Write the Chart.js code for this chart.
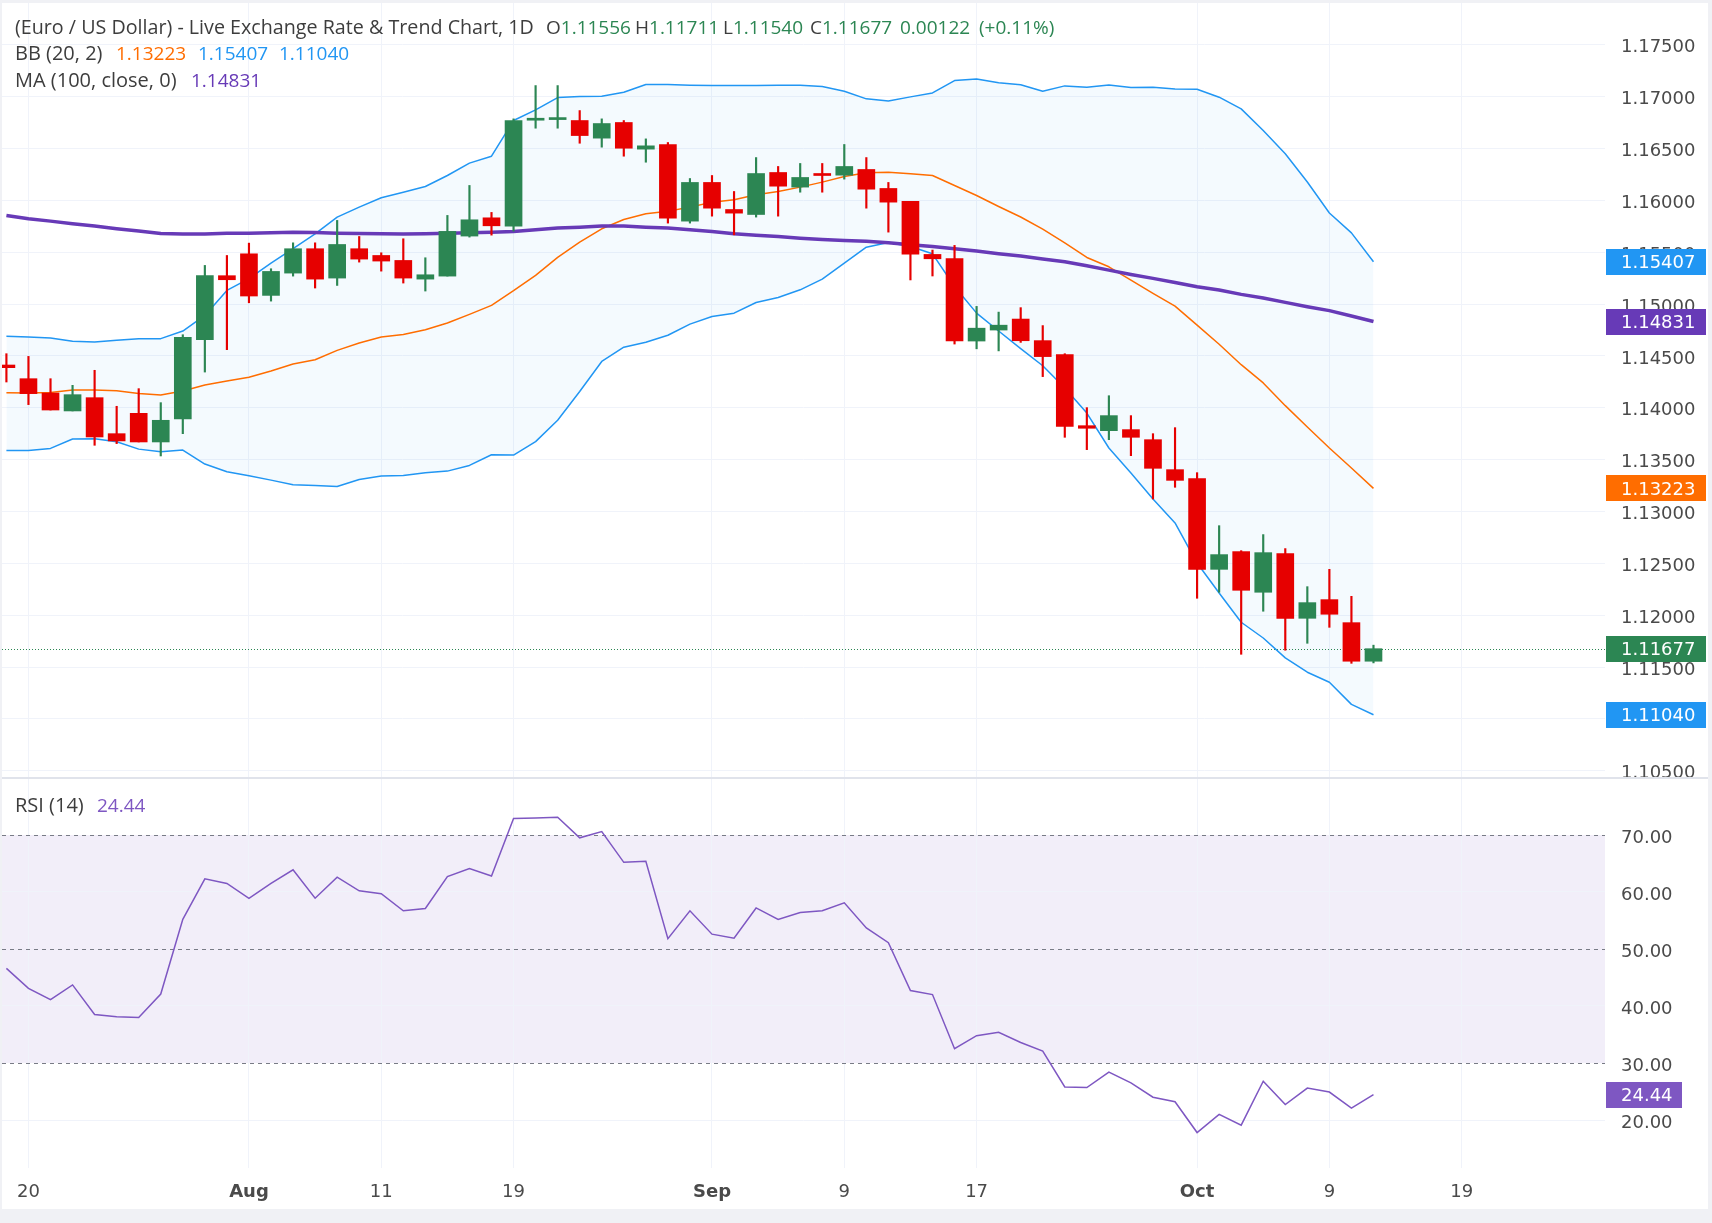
<!DOCTYPE html>
<html>
<head>
<meta charset="utf-8">
<script src="https://cdn.jsdelivr.net/npm/chart.js@4.4.1/dist/chart.umd.min.js"></script>
<style>
  body { margin: 0; width: 1712px; height: 1223px; overflow: hidden; background: #f0f1f5; font-family: "Open Sans", sans-serif; }
  #frame { position: absolute; left: 2px; top: 3px; width: 1706px; height: 1206px; background: #fff; }
  #priceBox { position: absolute; left: 0; top: 0; width: 1706px; height: 774px; }
  #sep { position: absolute; left: 0; top: 774px; width: 1706px; height: 2px; background: #e0e3eb; }
  #rsiBox { position: absolute; left: 0; top: 776px; width: 1706px; height: 430px; }
  .t { position: absolute; font-size: 19px; line-height: 24px; color: #3d3d3d; white-space: nowrap; z-index: 5; }
  .w { font-size: 20px; }
  .g { color: #2c8653; }
</style>
</head>
<body>
<div id="frame">
  <div id="priceBox"><canvas id="priceChart" width="1706" height="774"></canvas></div>
  <div id="sep"></div>
  <div id="rsiBox"><canvas id="rsiChart" width="1706" height="430"></canvas></div>
</div>

<!-- legend -->
<div class="t" style="left:15px; top:15px; font-size:19.7px">(Euro / US Dollar) - Live Exchange Rate &amp; Trend Chart, 1D</div>
<div class="t" style="left:546px; top:15px">O<span class="g">1.11556</span></div>
<div class="t" style="left:635px; top:15px">H<span class="g">1.11711</span></div>
<div class="t" style="left:723px; top:15px">L<span class="g">1.11540</span></div>
<div class="t" style="left:810px; top:15px">C<span class="g">1.11677</span></div>
<div class="t g" style="left:900px; top:15px">0.00122</div>
<div class="t g" style="left:979px; top:15px">(+0.11%)</div>

<div class="t w" style="left:15px; top:41px">BB (20, 2)</div>
<div class="t" style="left:116px; top:41px; color:#ff6d00">1.13223</div>
<div class="t" style="left:198px; top:41px; color:#2196f3">1.15407</div>
<div class="t" style="left:279px; top:41px; color:#2196f3">1.11040</div>

<div class="t w" style="left:15px; top:68px">MA (100, close, 0)</div>
<div class="t" style="left:191px; top:68px; color:#673ab7">1.14831</div>

<div class="t w" style="left:15px; top:793px">RSI (14)</div>
<div class="t" style="left:97px; top:793px; color:#7e57c2">24.44</div>

<script>
// Daily candles (index 0 = first visible bar)
const open = [1.14412, 1.14280, 1.14142, 1.13969, 1.14097, 1.13750, 1.13946, 1.13670, 1.13892, 1.14656,
  1.15273, 1.15484, 1.15083, 1.15298, 1.15533, 1.15250, 1.15533, 1.15468, 1.15420, 1.15240,
  1.15269, 1.15655, 1.15831, 1.15751, 1.16772, 1.16778, 1.16769, 1.16599, 1.16750, 1.16493,
  1.16538, 1.15799, 1.16172, 1.15911, 1.15863, 1.16268, 1.16127, 1.16249, 1.16242, 1.16297,
  1.16114, 1.15989, 1.15478, 1.15439, 1.14643, 1.14749, 1.14855, 1.14647, 1.14512, 1.13827,
  1.13779, 1.13789, 1.13692, 1.13403, 1.13316, 1.12442, 1.12613, 1.12221, 1.12593, 1.11970,
  1.12150, 1.11928, 1.11556];
const high = [1.14521, 1.14495, 1.14280, 1.14216, 1.14361, 1.14014, 1.14184, 1.14049, 1.14704, 1.15372,
  1.15468, 1.15587, 1.15340, 1.15590, 1.15590, 1.15806, 1.15651, 1.15494, 1.15629, 1.15446,
  1.15854, 1.16143, 1.15883, 1.16785, 1.17106, 1.17106, 1.16865, 1.16785, 1.16769, 1.16592,
  1.16557, 1.16210, 1.16239, 1.16085, 1.16412, 1.16326, 1.16355, 1.16355, 1.16538, 1.16412,
  1.16172, 1.15989, 1.15520, 1.15565, 1.14977, 1.14922, 1.14965, 1.14792, 1.14521, 1.14001,
  1.14116, 1.13924, 1.13750, 1.13808, 1.13374, 1.12863, 1.12622, 1.12777, 1.12642, 1.12275,
  1.12442, 1.12182, 1.11711];
const low = [1.14248, 1.14030, 1.13978, 1.13969, 1.13638, 1.13654, 1.13670, 1.13535, 1.13750, 1.14344,
  1.14560, 1.15012, 1.15028, 1.15269, 1.15154, 1.15179, 1.15404, 1.15317, 1.15202, 1.15125,
  1.15269, 1.15645, 1.15664, 1.15703, 1.16695, 1.16695, 1.16550, 1.16512, 1.16425, 1.16367,
  1.15780, 1.15780, 1.15847, 1.15667, 1.15838, 1.15847, 1.16078, 1.16078, 1.16204, 1.15924,
  1.15693, 1.15232, 1.15270, 1.14614, 1.14568, 1.14548, 1.14630, 1.14300, 1.13715, 1.13596,
  1.13692, 1.13538, 1.13120, 1.13233, 1.12163, 1.12221, 1.11623, 1.12038, 1.11662, 1.11729,
  1.11883, 1.11536, 1.11540];
const close = [1.14386, 1.14136, 1.13978, 1.14126, 1.13718, 1.13680, 1.13670, 1.13879, 1.14678, 1.15273,
  1.15234, 1.15077, 1.15314, 1.15533, 1.15240, 1.15574, 1.15433, 1.15414, 1.15250, 1.15282,
  1.15700, 1.15812, 1.15754, 1.16769, 1.16780, 1.16790, 1.16624, 1.16740, 1.16502, 1.16525,
  1.15828, 1.16172, 1.15924, 1.15876, 1.16258, 1.16136, 1.16220, 1.16239, 1.16326, 1.16107,
  1.15982, 1.15481, 1.15436, 1.14645, 1.14767, 1.14796, 1.14646, 1.14493, 1.13821, 1.13802,
  1.13924, 1.13715, 1.13416, 1.13300, 1.12442, 1.12584, 1.12240, 1.12603, 1.11970, 1.12121,
  1.12009, 1.11556, 1.11677];

// Bollinger bands (20, 2)
const bbUpper = [1.14688, 1.14682, 1.14672, 1.14640, 1.14633, 1.14650, 1.14666, 1.14666, 1.14739, 1.14890,
  1.15131, 1.15244, 1.15395, 1.15533, 1.15677, 1.15838, 1.15934, 1.16024, 1.16078, 1.16133,
  1.16239, 1.16358, 1.16425, 1.16769, 1.16872, 1.16990, 1.17000, 1.17003, 1.17042, 1.17116,
  1.17116, 1.17109, 1.17106, 1.17106, 1.17106, 1.17109, 1.17109, 1.17096, 1.17051, 1.16978,
  1.16958, 1.16997, 1.17035, 1.17154, 1.17170, 1.17133, 1.17114, 1.17051, 1.17103, 1.17090,
  1.17112, 1.17087, 1.17090, 1.17074, 1.17071, 1.16994, 1.16881, 1.16673, 1.16449, 1.16176,
  1.15878, 1.15686, 1.15407];
const bbBasis = [1.14145, 1.14141, 1.14148, 1.14170, 1.14170, 1.14164, 1.14138, 1.14122, 1.14161, 1.14219,
  1.14257, 1.14293, 1.14354, 1.14421, 1.14463, 1.14553, 1.14624, 1.14682, 1.14707, 1.14752,
  1.14817, 1.14900, 1.14987, 1.15128, 1.15276, 1.15449, 1.15597, 1.15725, 1.15815, 1.15870,
  1.15895, 1.15934, 1.15982, 1.16005, 1.16053, 1.16085, 1.16127, 1.16175, 1.16229, 1.16265,
  1.16271, 1.16255, 1.16239, 1.16143, 1.16046, 1.15940, 1.15839, 1.15722, 1.15590, 1.15449,
  1.15359, 1.15231, 1.15103, 1.14979, 1.14797, 1.14612, 1.14415, 1.14239, 1.14020, 1.13814,
  1.13612, 1.13419, 1.13223];
const bbLower = [1.13588, 1.13588, 1.13608, 1.13698, 1.13701, 1.13672, 1.13601, 1.13576, 1.13592, 1.13457,
  1.13383, 1.13344, 1.13302, 1.13257, 1.13251, 1.13241, 1.13309, 1.13341, 1.13347, 1.13373,
  1.13389, 1.13444, 1.13547, 1.13544, 1.13673, 1.13880, 1.14156, 1.14446, 1.14584, 1.14632,
  1.14699, 1.14806, 1.14880, 1.14912, 1.15015, 1.15063, 1.15137, 1.15240, 1.15394, 1.15548,
  1.15593, 1.15555, 1.15484, 1.15169, 1.14912, 1.14740, 1.14570, 1.14405, 1.14190, 1.13949,
  1.13612, 1.13371, 1.13120, 1.12889, 1.12503, 1.12214, 1.11932, 1.11780, 1.11588, 1.11450,
  1.11353, 1.11140, 1.11040];

// MA (100, close)
const ma100 = [1.15854, 1.15822, 1.15799, 1.15773, 1.15751, 1.15725, 1.15703, 1.15680, 1.15674, 1.15674,
  1.15683, 1.15683, 1.15687, 1.15693, 1.15690, 1.15683, 1.15680, 1.15677, 1.15674, 1.15677,
  1.15683, 1.15687, 1.15693, 1.15700, 1.15716, 1.15732, 1.15741, 1.15751, 1.15751, 1.15741,
  1.15732, 1.15716, 1.15700, 1.15677, 1.15664, 1.15651, 1.15635, 1.15622, 1.15613, 1.15606,
  1.15590, 1.15571, 1.15555, 1.15533, 1.15510, 1.15485, 1.15462, 1.15435, 1.15407, 1.15369,
  1.15327, 1.15285, 1.15247, 1.15208, 1.15167, 1.15135, 1.15093, 1.15058, 1.15016, 1.14974,
  1.14936, 1.14885, 1.14831];

// RSI (14)
const rsi = [46.6, 43.1, 41.1, 43.7, 38.5, 38.1, 38.0, 42.1, 55.2, 62.3,
  61.5, 58.9, 61.5, 63.9, 58.9, 62.6, 60.2, 59.7, 56.7, 57.1,
  62.7, 64.1, 62.8, 72.9, 73.0, 73.1, 69.5, 70.6, 65.2, 65.4,
  51.8, 56.7, 52.6, 51.9, 57.2, 55.2, 56.4, 56.7, 58.1, 53.7,
  51.1, 42.7, 42.0, 32.5, 34.8, 35.4, 33.6, 32.1, 25.8, 25.7,
  28.4, 26.5, 24.0, 23.2, 17.8, 21.0, 19.1, 26.8, 22.7, 25.6,
  24.9, 22.1, 24.44];

// time axis labels and the bar index they sit on
const tickIdx = [1, 11, 17, 23, 32, 38, 44, 54, 60, 66];
const tickLabels = ['20', 'Aug', '11', '19', 'Sep', '9', '17', 'Oct', '9', '19'];

// last values shown as tags on the right axis
const priceTagValues = [1.15407, 1.14831, 1.13223, 1.11677, 1.11040];
const priceTagColors = ['#2196f3', '#673ab7', '#ff6d00', '#2c8653', '#2196f3'];
const lastClose = 1.11677;
const rsiLast = 24.44;

const green = '#2c8653';
const red = '#e60000';
const gridColor = '#f0f3fa';
const axisFont = { family: 'DejaVu Sans', size: 18 };
const idx = open.map((_, i) => i);
const pts = arr => arr.map((v, i) => ({ x: i, y: v }));
const candleColor = ctx => close[ctx.dataIndex] >= open[ctx.dataIndex] ? green : red;

// no automatic label padding: the plot must fill its box
function noPad(scale) {
  scale.paddingTop = 0;
  scale.paddingBottom = 0;
  scale.paddingLeft = 0;
  scale.paddingRight = 0;
}

function xAxis(withLabels) {
  return {
    type: 'linear',
    offset: false,
    min: -0.2,
    max: 72.5,
    afterBuildTicks: scale => { scale.ticks = tickIdx.map(v => ({ value: v })); },
    afterFit: scale => { scale.height = withLabels ? 41 : 0; noPad(scale); },
    grid: { color: gridColor, drawTicks: false, offset: false },
    border: { display: false },
    ticks: {
      display: withLabels,
      autoSkip: false,
      maxRotation: 0,
      padding: 14,
      color: '#4a4a4a',
      font: ctx => ({ family: 'DejaVu Sans', size: 18, weight: isNaN(+tickLabels[ctx.index]) ? '600' : '400' }),
      callback: (v, i) => tickLabels[i]
    }
  };
}

// coloured value tags on the right axis
const tagPlugin = {
  id: 'tags',
  afterDraw(chart, args, opts) {
    const { ctx, chartArea } = chart;
    const scale = chart.scales.y;
    ctx.save();
    ctx.font = '18px "DejaVu Sans"';
    ctx.textBaseline = 'middle';
    opts.values.forEach((v, i) => {
      const y = scale.getPixelForValue(v);
      ctx.fillStyle = opts.colors[i];
      ctx.fillRect(chartArea.right + 1, Math.round(y - 13), opts.width, 26);
      ctx.fillStyle = '#ffffff';
      ctx.fillText(v.toFixed(opts.digits), chartArea.right + 16, y + 2);
    });
    ctx.restore();
  }
};

// dotted line at the last close
const lastLinePlugin = {
  id: 'lastLine',
  beforeDatasetsDraw(chart) {
    const { ctx, chartArea } = chart;
    const y = chart.scales.y.getPixelForValue(lastClose);
    ctx.save();
    ctx.strokeStyle = green;
    ctx.lineWidth = 1;
    ctx.setLineDash([1, 2]);
    ctx.beginPath();
    ctx.moveTo(chartArea.left, Math.round(y) + 0.5);
    ctx.lineTo(chartArea.right, Math.round(y) + 0.5);
    ctx.stroke();
    ctx.restore();
  }
};

// RSI 30-70 band and dashed levels
const rsiBandPlugin = {
  id: 'rsiBand',
  beforeDraw(chart) {
    const { ctx, chartArea } = chart;
    const s = chart.scales.y;
    const top = s.getPixelForValue(70), bottom = s.getPixelForValue(30);
    ctx.save();
    ctx.fillStyle = 'rgba(126, 87, 194, 0.1)';
    ctx.fillRect(chartArea.left, top, chartArea.right - chartArea.left, bottom - top);
    ctx.restore();
  },
  beforeDatasetsDraw(chart) {
    const { ctx, chartArea } = chart;
    const s = chart.scales.y;
    ctx.save();
    ctx.strokeStyle = '#787b86';
    ctx.lineWidth = 1;
    ctx.setLineDash([4, 4]);
    [70, 50, 30].forEach(level => {
      const y = Math.round(s.getPixelForValue(level)) + 0.5;
      ctx.beginPath();
      ctx.moveTo(chartArea.left, y);
      ctx.lineTo(chartArea.right, y);
      ctx.stroke();
    });
    ctx.restore();
  }
};

const priceChart = new Chart(document.getElementById('priceChart'), {
  type: 'bar',
  data: {
    datasets: [
      {
        type: 'bar', label: 'Body', order: 0,
        data: idx.map(i => ({ x: i, y: [open[i], close[i]] })),
        backgroundColor: candleColor,
        grouped: false, barPercentage: 1, categoryPercentage: 1,
        maxBarThickness: 17, minBarLength: 2
      },
      {
        type: 'bar', label: 'Wick', order: 1,
        data: idx.map(i => ({ x: i, y: [low[i], high[i]] })),
        backgroundColor: candleColor,
        grouped: false, barPercentage: 1, categoryPercentage: 1,
        maxBarThickness: 1.5
      },
      { type: 'line', label: 'MA', order: 2, data: pts(ma100), borderColor: '#673ab7', borderWidth: 3.5 },
      { type: 'line', label: 'BB basis', order: 3, data: pts(bbBasis), borderColor: '#ff6d00', borderWidth: 1.5 },
      { type: 'line', label: 'BB upper', order: 4, data: pts(bbUpper), borderColor: '#2196f3', borderWidth: 1.5 },
      {
        type: 'line', label: 'BB lower', order: 5, data: pts(bbLower), borderColor: '#2196f3', borderWidth: 1.5,
        fill: 4, backgroundColor: 'rgba(33, 150, 243, 0.05)'
      }
    ]
  },
  options: {
    responsive: false,
    animation: false,
    events: [],
    layout: { padding: 0 },
    elements: { point: { radius: 0 }, line: { tension: 0, borderJoinStyle: 'round' } },
    plugins: {
      legend: { display: false },
      tooltip: { enabled: false },
      filler: { drawTime: 'beforeDatasetsDraw' },
      tags: { values: priceTagValues, colors: priceTagColors, width: 100, digits: 5 }
    },
    scales: {
      x: xAxis(false),
      y: {
        position: 'right',
        min: 1.10440,
        max: 1.17902,
        afterFit: scale => { scale.width = 103; noPad(scale); },
        grid: { color: gridColor, drawTicks: false },
        border: { display: false },
        ticks: {
          stepSize: 0.005,
          includeBounds: false,
          padding: 16,
          labelOffset: 3,
          color: '#4a4a4a',
          font: axisFont,
          callback: v => v.toFixed(5)
        }
      }
    }
  },
  plugins: [lastLinePlugin, tagPlugin]
});

const rsiChart = new Chart(document.getElementById('rsiChart'), {
  type: 'line',
  data: {
    datasets: [
      { label: 'RSI', data: pts(rsi), borderColor: '#7e57c2', borderWidth: 1.5, pointRadius: 0, tension: 0 }
    ]
  },
  options: {
    responsive: false,
    animation: false,
    events: [],
    layout: { padding: 0 },
    plugins: {
      legend: { display: false },
      tooltip: { enabled: false },
      tags: { values: [rsiLast], colors: ['#7e57c2'], width: 76, digits: 2 }
    },
    scales: {
      x: xAxis(true),
      y: {
        position: 'right',
        min: 11.58,
        max: 79.82,
        afterFit: scale => { scale.width = 103; noPad(scale); },
        grid: {
          drawTicks: false,
          color: ctx => [30, 50, 70].includes(Math.round(ctx.tick.value)) ? 'rgba(0,0,0,0)' : gridColor
        },
        border: { display: false },
        ticks: {
          stepSize: 10,
          includeBounds: false,
          padding: 16,
          labelOffset: 3,
          color: '#4a4a4a',
          font: axisFont,
          callback: v => v.toFixed(2)
        }
      }
    }
  },
  plugins: [rsiBandPlugin, tagPlugin]
});
</script>
</body>
</html>
